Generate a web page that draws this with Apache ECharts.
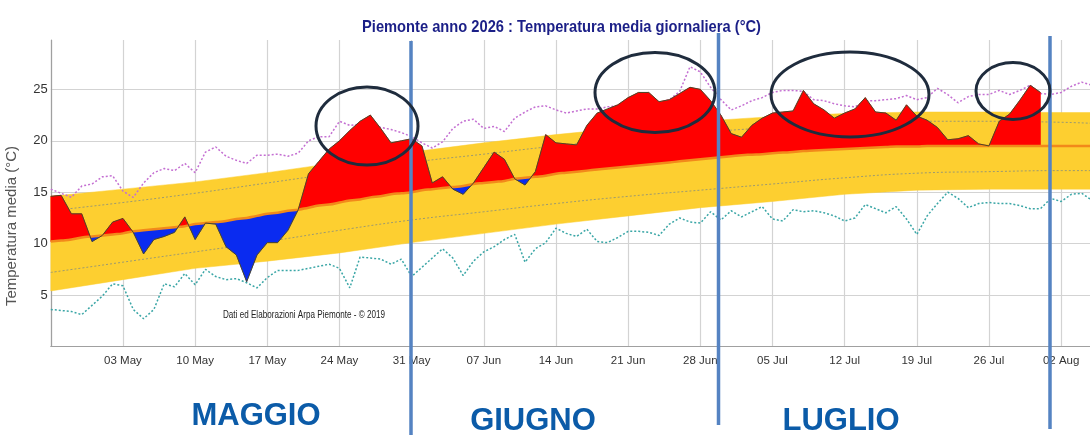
<!DOCTYPE html>
<html>
<head>
<meta charset="utf-8">
<script src="https://cdn.jsdelivr.net/npm/echarts@6/dist/echarts.min.js"></script>
<style>
html,body{margin:0;padding:0;background:#fff;}
#chart{width:1090px;height:446px;}
</style>
</head>
<body>
<div id="chart"></div>
<script>
// Day index 0 = 26 Apr 2026
const xTickLabels = ['03 May','10 May','17 May','24 May','31 May','07 Jun','14 Jun','21 Jun','28 Jun','05 Jul','12 Jul','19 Jul','26 Jul','02 Aug'];
const yTicks = [5, 10, 15, 20, 25];

// daily mean temperature 2026 (day 0 .. 96)
const temperature = [
  14.6, 14.7, 12.9, 12.9, 10.2, 10.8, 12.1, 12.45, 11.1, 9.0,
  10.4, 10.7, 11.1, 12.6, 10.4, 12.0, 11.9, 9.7, 8.9, 6.3,
  8.9, 10.1, 10.1, 11.3, 13.3, 16.8, 18.0, 19.2, 20.0, 21.0,
  21.9, 22.5, 21.2, 19.8, 20.0, 20.2, 19.5, 15.9, 16.5, 15.3,
  14.8, 15.9, 17.4, 18.9, 18.2, 16.3, 15.7, 17.0, 20.6, 19.8,
  19.7, 19.6, 21.5, 22.7, 23.1, 23.5, 24.2, 24.7, 24.7, 23.8,
  24.0, 24.6, 25.2, 25.0, 23.9, 22.5, 20.7, 20.35, 21.5, 22.2,
  22.7, 22.8, 22.9, 24.9, 23.6, 23.0, 22.2, 22.7, 23.1, 24.2,
  22.8, 22.7, 22.0, 23.5, 22.4, 22.0, 21.3, 20.1, 20.2, 20.5,
  19.7, 19.5, 21.9, 22.6, 23.95, 25.4, 24.7
];

// climatological median (day 0 .. 101)
const median = [
  10.2, 10.3, 10.4, 10.6, 10.7, 10.8, 10.9, 11.0, 11.2, 11.3,
  11.4, 11.5, 11.6, 11.7, 11.9, 12.0, 12.1, 12.2, 12.4, 12.5,
  12.7, 12.9, 13.0, 13.2, 13.3, 13.5, 13.7, 13.8, 14.0, 14.2,
  14.3, 14.5, 14.6, 14.8, 14.9, 15.0, 15.2, 15.3, 15.4, 15.5,
  15.6, 15.8, 15.9, 16.0, 16.1, 16.3, 16.4, 16.5, 16.6, 16.8,
  16.9, 17.0, 17.1, 17.2, 17.3, 17.4, 17.5, 17.6, 17.7, 17.8,
  17.9, 18.0, 18.1, 18.2, 18.3, 18.4, 18.5, 18.6, 18.65, 18.7,
  18.8, 18.85, 18.9, 19.0, 19.05, 19.1, 19.15, 19.2, 19.25, 19.3,
  19.35, 19.4, 19.45, 19.45, 19.45, 19.5, 19.5, 19.5, 19.5, 19.5,
  19.5, 19.5, 19.5, 19.5, 19.5, 19.5, 19.5, 19.5, 19.5, 19.5,
  19.5, 19.5
];

// record maximum of daily mean (day 0 .. 101)
const recordMax = [
  15.3, 14.9, 14.5, 15.6, 15.8, 16.5, 16.6, 15.1, 14.5, 15.9,
  16.9, 17.3, 17.1, 17.8, 16.9, 18.9, 19.4, 18.5, 18.1, 17.8,
  18.6, 18.6, 18.7, 18.5, 18.8, 20.0, 20.4, 20.4, 21.9, 21.5,
  21.6, 21.6, 21.3, 21.1, 20.8, 20.4, 19.8, 19.3, 19.9, 21.2,
  21.9, 22.1, 21.2, 21.4, 20.9, 22.2, 22.8, 23.3, 23.4, 23.0,
  22.7, 22.9, 23.1, 23.1, 23.3, 23.4, 23.6, 23.8, 23.9, 23.7,
  24.0, 24.8, 27.2, 26.7, 25.2, 24.0, 23.0, 23.4, 23.9, 24.2,
  24.7, 24.9, 24.9, 24.8, 24.0, 23.9, 23.6, 23.4, 23.3, 23.9,
  23.9, 24.0, 24.1, 24.4, 24.0, 24.2, 25.1, 24.5, 23.7, 24.3,
  24.5, 24.5, 24.9, 24.5, 24.9, 25.4, 24.6, 24.5, 24.7, 25.3,
  25.7, 25.4
];

// record minimum of daily mean (day 0 .. 101)
const recordMin = [
  3.6, 3.5, 3.4, 3.1, 4.0, 4.9, 6.1, 5.9, 3.6, 2.7,
  3.6, 6.1, 5.8, 7.1, 6.0, 7.5, 6.8, 6.5, 6.6, 6.2,
  5.7, 6.7, 7.4, 7.4, 7.4, 7.6, 7.8, 8.0, 7.6, 5.7,
  8.7, 8.6, 8.5, 8.0, 8.5, 6.8, 7.7, 8.6, 9.5, 8.6,
  6.9, 8.3, 9.2, 9.7, 10.4, 10.9, 8.2, 9.5, 10.1, 11.5,
  11.0, 10.7, 11.4, 10.2, 10.1, 10.6, 11.2, 11.2, 11.1, 10.8,
  11.9, 12.5, 12.1, 12.0, 13.1, 12.3, 13.2, 12.6, 13.1, 13.6,
  12.4, 12.2, 13.3, 13.1, 13.2, 13.0, 12.7, 12.2, 12.5, 13.8,
  13.4, 13.0, 13.6, 12.4, 10.9, 12.7, 13.9, 15.0, 14.4, 13.5,
  13.9, 14.0, 13.9, 13.9, 13.7, 13.4, 13.4, 14.4, 14.1, 14.8,
  14.9, 14.2
];

// climatological band, sampled weekly
const bandDays  = [0, 7, 14, 21, 28, 35, 42, 49, 56, 63, 70, 77, 84, 91, 98, 101];
const bandLow   = [5.4, 6.5, 7.6, 8.3, 9.1, 10.1, 11.0, 11.9, 12.7, 13.5, 14.1, 14.8, 15.2, 15.3, 15.3, 15.3];
const bandHigh  = [14.6, 15.3, 16.0, 16.9, 17.9, 18.9, 19.8, 20.6, 21.3, 21.9, 22.35, 22.65, 22.8, 22.8, 22.75, 22.75];
const pctLow    = [7.2, 8.2, 9.2, 10.2, 11.3, 12.3, 13.1, 13.9, 14.6, 15.2, 15.8, 16.4, 16.85, 17.0, 17.1, 17.1];
const pctHigh   = [13.2, 14.0, 14.9, 15.9, 16.9, 17.9, 18.7, 19.5, 20.2, 20.8, 21.3, 21.7, 21.9, 21.9, 21.8, 21.7];

const SANS = '"Liberation Sans", Arial, sans-serif';
const TITLE = 'Piemonte anno 2026 : Temperatura media giornaliera (°C)';
const CREDIT = 'Dati ed Elaborazioni Arpa Piemonte - © 2019';

const pairs = (xs, ys) => ys.map((v, i) => [xs[i], v]);
const daily = ys => ys.map((v, i) => [i, v]);

const RED = '#ff0000', BLUE = '#0a2bf0', YELLOW = '#fdcf30';

// horizontal squeeze factor so a text fits a target width (condensed look)
const measureCtx = document.createElement('canvas').getContext('2d');
function squeeze(text, font, targetWidth) {
  measureCtx.font = font;
  const w = measureCtx.measureText(text).width;
  return w > 0 ? Math.min(1, targetWidth / w) : 1;
}
const TITLE_FONT = 'bold 17px ' + SANS;
const CREDIT_FONT = '10.5px ' + SANS;

// Band polygon: upper edge left->right, lower edge right->left
function renderBand(params, api) {
  const pts = [];
  for (let i = 0; i < bandDays.length; i++) pts.push(api.coord([bandDays[i], bandHigh[i]]));
  for (let i = bandDays.length - 1; i >= 0; i--) pts.push(api.coord([bandDays[i], bandLow[i]]));
  return { type: 'polygon', shape: { points: pts }, style: { fill: YELLOW, stroke: YELLOW, lineWidth: 0.5 } };
}

// Anomaly fill: red above the median, blue below, split at crossings
function renderAnomaly(params, api) {
  const runs = [];
  let cur = null;
  const sgn = v => (v > 0 ? 1 : (v < 0 ? -1 : 0));
  const start = (sign, T, M) => { cur = { sign, top: [T], bot: [M] }; runs.push(cur); };
  const n = temperature.length;
  start(sgn(temperature[0] - median[0]), api.coord([0, temperature[0]]), api.coord([0, median[0]]));
  for (let i = 0; i < n - 1; i++) {
    const a0 = temperature[i] - median[i], a1 = temperature[i + 1] - median[i + 1];
    const P0 = api.coord([i, temperature[i]]), P1 = api.coord([i + 1, temperature[i + 1]]);
    const M0 = api.coord([i, median[i]]), M1 = api.coord([i + 1, median[i + 1]]);
    if (a0 * a1 < 0) {
      const f = a0 / (a0 - a1);
      const C = [P0[0] + f * (P1[0] - P0[0]), P0[1] + f * (P1[1] - P0[1])];
      cur.top.push(C); cur.bot.push(C);
      start(sgn(a1), C, C);
    } else {
      const s = sgn(a0) || sgn(a1);
      if (s !== 0 && cur.sign !== 0 && s !== cur.sign) start(s, P0, M0);
      if (cur.sign === 0) cur.sign = s;
    }
    cur.top.push(P1); cur.bot.push(M1);
  }
  const children = [];
  runs.forEach(r => {
    if (r.sign === 0 || r.top.length < 2) return;
    const col = r.sign > 0 ? RED : BLUE;
    children.push({
      type: 'polygon',
      shape: { points: r.top.concat(r.bot.slice().reverse()) },
      style: { fill: col, stroke: col, lineWidth: 0.5 }
    });
  });
  return { type: 'group', children };
}

const chart = echarts.init(document.getElementById('chart'), null, { renderer: 'canvas' });

const option = {
  backgroundColor: '#ffffff',
  animation: false,
  grid: { left: 50.8, right: 0, top: 40, bottom: 99.5, containLabel: false, outerBoundsMode: 'none' },
  xAxis: {
    type: 'value', min: 0, max: 100.8, interval: 7,
    axisLine: { show: true, lineStyle: { color: '#a0a0a0', width: 1.2 } },
    axisTick: { show: false },
    splitLine: { show: true, showMaxLine: false, lineStyle: { color: '#d3d3d3', width: 1.2 } },
    axisLabel: {
      showMinLabel: false, showMaxLabel: false, margin: 8,
      fontFamily: SANS, fontSize: 11.5, color: '#333',
      formatter: v => {
        const k = v / 7;
        if (Math.abs(k - Math.round(k)) > 1e-6) return '';
        return xTickLabels[Math.round(k) - 1] || '';
      }
    }
  },
  yAxis: {
    type: 'value', min: 0, max: 29.8, interval: 5,
    axisLine: { show: true, lineStyle: { color: '#a0a0a0', width: 1.2 } },
    axisTick: { show: false },
    splitLine: { show: true, showMaxLine: false, showMinLine: false, lineStyle: { color: '#d3d3d3', width: 1.2 } },
    axisLabel: {
      showMinLabel: false, showMaxLabel: false, margin: 3,
      fontFamily: SANS, fontSize: 13, color: '#333',
      formatter: v => (yTicks.indexOf(v) >= 0 ? String(v) : '')
    }
  },
  series: [
    {
      name: 'band', type: 'custom', renderItem: renderBand, clip: true, silent: true,
      data: [[bandDays[0], bandLow[0]]], z: 2
    },
    {
      name: 'pctHigh', type: 'line', smooth: true, symbol: 'none', silent: true,
      data: pairs(bandDays, pctHigh), lineStyle: { color: '#9c9a70', width: 1, type: [2, 2] }, z: 3
    },
    {
      name: 'pctLow', type: 'line', smooth: true, symbol: 'none', silent: true,
      data: pairs(bandDays, pctLow), lineStyle: { color: '#9c9a70', width: 1, type: [2, 2] }, z: 3
    },
    {
      name: 'recordMax', type: 'line', symbol: 'none', silent: true,
      data: daily(recordMax), lineStyle: { color: '#c46fd2', width: 1.5, type: [2, 2] }, z: 3
    },
    {
      name: 'recordMin', type: 'line', symbol: 'none', silent: true,
      data: daily(recordMin), lineStyle: { color: '#3aa6a6', width: 1.5, type: [2, 2] }, z: 3
    },
    {
      name: 'anomaly', type: 'custom', renderItem: renderAnomaly, clip: true, silent: true,
      data: [[0, temperature[0]]], z: 4
    },
    {
      name: 'median', type: 'line', symbol: 'none', silent: true, smooth: true,
      data: daily(median), lineStyle: { color: '#f2891a', width: 2.5 }, z: 5
    },
    {
      name: 'temperature', type: 'line', symbol: 'none', silent: true,
      data: daily(temperature), lineStyle: { color: '#4b4628', width: 1 }, z: 6
    }
  ],
  graphic: [
    {
      type: 'text', x: 362, y: 27, scaleX: squeeze(TITLE, TITLE_FONT, 399), silent: true,
      style: { text: TITLE, font: TITLE_FONT, fill: '#1b1f87', align: 'left', verticalAlign: 'middle' }
    },
    {
      type: 'text', x: 12, y: 226, rotation: Math.PI / 2, silent: true,
      style: { text: 'Temperatura media (°C)', font: '15px ' + SANS, fill: '#555', align: 'center', verticalAlign: 'middle' }
    },
    {
      type: 'text', x: 304, y: 315, scaleX: squeeze(CREDIT, CREDIT_FONT, 162), silent: true, z: 10,
      style: { text: CREDIT, font: CREDIT_FONT, fill: '#222', align: 'center', verticalAlign: 'middle' }
    },
    { type: 'line', shape: { x1: 411, y1: 41, x2: 411, y2: 435 }, style: { stroke: '#5583c2', lineWidth: 3.5 }, z: 20, silent: true },
    { type: 'line', shape: { x1: 718.5, y1: 33, x2: 718.5, y2: 425 }, style: { stroke: '#5583c2', lineWidth: 3.5 }, z: 20, silent: true },
    { type: 'line', shape: { x1: 1050, y1: 36, x2: 1050, y2: 429 }, style: { stroke: '#5583c2', lineWidth: 3.5 }, z: 20, silent: true },
    { type: 'ellipse', shape: { cx: 367, cy: 126, rx: 51, ry: 39 }, style: { fill: 'none', stroke: '#1f2c3d', lineWidth: 3 }, z: 21, silent: true },
    { type: 'ellipse', shape: { cx: 655, cy: 92.5, rx: 60, ry: 40 }, style: { fill: 'none', stroke: '#1f2c3d', lineWidth: 3 }, z: 21, silent: true },
    { type: 'ellipse', shape: { cx: 850, cy: 94.5, rx: 79, ry: 42.5 }, style: { fill: 'none', stroke: '#1f2c3d', lineWidth: 3 }, z: 21, silent: true },
    { type: 'ellipse', shape: { cx: 1013, cy: 91, rx: 37, ry: 28.5 }, style: { fill: 'none', stroke: '#1f2c3d', lineWidth: 3 }, z: 21, silent: true },
    {
      type: 'text', x: 256, y: 416, silent: true,
      style: { text: 'MAGGIO', font: 'bold 31px ' + SANS, fill: '#0b5ba8', align: 'center', verticalAlign: 'middle' }
    },
    {
      type: 'text', x: 533, y: 421, silent: true,
      style: { text: 'GIUGNO', font: 'bold 31px ' + SANS, fill: '#0b5ba8', align: 'center', verticalAlign: 'middle' }
    },
    {
      type: 'text', x: 841, y: 421, silent: true,
      style: { text: 'LUGLIO', font: 'bold 31px ' + SANS, fill: '#0b5ba8', align: 'center', verticalAlign: 'middle' }
    }
  ]
};

chart.setOption(option);
</script>
</body>
</html>
